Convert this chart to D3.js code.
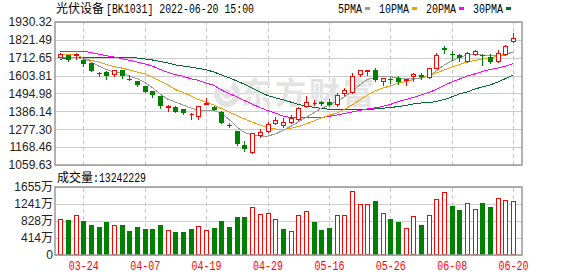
<!DOCTYPE html>
<html>
<head>
<meta charset="utf-8">
<script src="https://cdn.jsdelivr.net/npm/d3@7/dist/d3.min.js"></script>
<style>
  html, body { margin: 0; padding: 0; background: #fff; }
  svg { display: block; }
</style>
</head>
<body>
<svg id="chart" width="578" height="276"></svg>
<script>
// ---- data ----
const title_name = "光伏设备";
const title_rest = "[BK1031] 2022-06-20 15:00";
const vol_title = "成交量";
const vol_last = ":13242229";

const dates = ["03-21","03-22","03-23","03-24","03-25","03-28","03-29","03-30","03-31","04-01",
  "04-06","04-07","04-08","04-11","04-12","04-13","04-14","04-15","04-18","04-19",
  "04-20","04-21","04-22","04-25","04-26","04-27","04-28","04-29","05-05","05-06",
  "05-09","05-10","05-11","05-12","05-13","05-16","05-17","05-18","05-19","05-20",
  "05-23","05-24","05-25","05-26","05-27","05-30","05-31","06-01","06-02","06-06",
  "06-07","06-08","06-09","06-10","06-13","06-14","06-15","06-16","06-17","06-20"];

const opens = [1720,1727,1731,1700,1681,1618,1626,1612,1636,1583,
  1571,1541,1510,1480,1414,1414,1398,1368,1358,1430,
  1414,1384,1305,1267,1180,1141,1244,1269,1313,1303,
  1321,1337,1417,1437,1443,1443,1431,1498,1504,1612,
  1634,1636,1570,1582,1588,1578,1602,1605,1597,1652,
  1770,1738,1727,1690,1734,1729,1717,1691,1734,1816];
const highs = [1744,1729,1743,1702,1683,1626,1634,1640,1638,1606,
  1573,1542,1512,1481,1424,1416,1400,1378,1420,1465,
  1420,1390,1318,1269,1207,1256,1277,1321,1354,1343,
  1364,1413,1478,1455,1452,1463,1500,1528,1617,1640,
  1640,1648,1592,1598,1601,1582,1620,1617,1652,1744,
  1784,1753,1734,1747,1760,1734,1738,1758,1790,1862];
const lows = [1718,1691,1705,1664,1634,1603,1585,1600,1591,1580,
  1539,1504,1475,1408,1387,1382,1370,1340,1342,1428,
  1393,1315,1289,1184,1147,1134,1230,1261,1311,1293,
  1317,1335,1413,1423,1425,1418,1420,1488,1500,1601,
  1605,1573,1549,1557,1552,1549,1571,1585,1590,1650,
  1740,1697,1693,1685,1732,1667,1680,1689,1732,1810];
const closes = [1735,1697,1733,1676,1634,1615,1600,1640,1600,1581,
  1547,1504,1486,1417,1418,1384,1376,1372,1417,1439,
  1395,1317,1303,1186,1155,1252,1263,1309,1333,1321,
  1347,1407,1444,1440,1433,1426,1487,1517,1602,1636,
  1637,1575,1589,1580,1566,1581,1614,1597,1651,1731,
  1757,1735,1713,1744,1751,1724,1685,1741,1786,1834];

// volume, in 万
const volumes = [865,848,969,824,727,678,800,727,727,582,
  678,630,630,727,606,557,557,630,703,606,
  654,824,678,921,921,1163,993,1018,865,630,
  582,969,1066,808,614,662,969,969,1551,1244,
  1244,1308,1018,872,808,654,945,735,969,1357,
  1526,1187,1098,1260,1115,1260,1163,1381,1333,1324];

const ma5 = [1717,1717,1714,1708,1687,1662,1641,1626,1620,1601,
  1586,1562,1531,1492,1461,1443,1425,1407,1393,1394,
  1390,1376,1337,1291,1257,1242,1236,1236,1248,1270,
  1294,1321,1349,1376,1404,1425,1446,1474,1507,1547,
  1580,1592,1601,1598,1589,1583,1586,1589,1601,1632,
  1668,1693,1714,1729,1732,1729,1726,1723,1729,1748];
const ma10 = [1734,1734,1732,1711,1696,1687,1672,1659,1650,1638,
  1626,1614,1595,1571,1547,1519,1501,1480,1458,1443,
  1425,1404,1382,1361,1340,1321,1303,1288,1279,1277,
  1282,1294,1309,1327,1346,1361,1376,1398,1425,1455,
  1486,1510,1528,1541,1559,1568,1580,1592,1601,1620,
  1638,1656,1672,1687,1696,1705,1711,1723,1735,1748];
const ma20 = [1752,1752,1752,1752,1745,1734,1725,1717,1707,1697,
  1687,1675,1662,1642,1624,1609,1600,1585,1575,1559,
  1545,1516,1495,1474,1452,1431,1410,1391,1376,1358,
  1349,1346,1346,1346,1349,1355,1364,1373,1382,1391,
  1401,1407,1416,1428,1446,1458,1471,1486,1501,1519,
  1544,1565,1583,1601,1614,1629,1641,1650,1662,1677];
const ma30 = [1703,1711,1717,1717,1717,1717,1717,1717,1717,1715,
  1711,1705,1699,1691,1681,1669,1662,1656,1648,1640,
  1626,1608,1591,1571,1551,1529,1504,1483,1469,1457,
  1443,1429,1419,1411,1405,1399,1395,1395,1395,1395,
  1396,1401,1405,1410,1415,1422,1431,1437,1440,1446,
  1458,1474,1492,1504,1522,1535,1547,1565,1586,1606];

const price_ticks = [1059.63,1168.46,1277.30,1386.14,1494.98,1603.81,1712.65,1821.49,1930.32];
const vol_ticks = [0,414,828,1241,1655];
const vol_tick_labels = ["0","414万","828万","1241万","1655万"];
const date_ticks = ["03-24","04-07","04-19","04-29","05-16","05-26","06-08","06-20"];
const ma_names = ["5PMA","10PMA","20PMA","30PMA"];
const ma_colors = ["#9a9a9a","#f4a000","#ff00ff","#006b2e"];

// ---- layout ----
const left = 55, right = 522;
const price_top = 22, price_bottom = 165;
const vol_top = 187, vol_bottom = 255;
const RED = "#ff0000", GREEN = "#008000";
const MONO = "'Liberation Mono', monospace";
const SANS = "'Liberation Sans', 'Noto Sans CJK SC', sans-serif";
const CJK = "'Noto Sans CJK SC', sans-serif";

const svg = d3.select("#chart");

const x = d3.scalePoint().domain(dates).range([60.3, 513.1]);
const y_price = d3.scaleLinear().domain([1059.63, 1930.32]).range([price_bottom, price_top]);
const y_vol = d3.scaleLinear().domain([0, 1655]).range([vol_bottom, vol_top]);

const rows = dates.map((d, i) => ({
    date: d, open: opens[i], high: highs[i], low: lows[i], close: closes[i],
    vol: volumes[i],
    // volume colour follows close vs previous close
    vol_up: i === 0 ? closes[i] >= opens[i] : closes[i] >= closes[i - 1]
}));

const px = v => Math.round(v) + 0.5;

// ---- grids ----
function draw_grid(y, ticks, top, bottom) {
    svg.append("g")
        .attr("transform", `translate(${left},0)`)
        .call(d3.axisRight(y).tickValues(ticks).tickSize(right - left).tickFormat(""))
        .call(g => g.select(".domain").remove())
        .selectAll("line")
        .attr("stroke", "#cccccc")
        .attr("shape-rendering", "crispEdges");

    svg.append("g")
        .attr("transform", `translate(0,${bottom})`)
        .call(d3.axisBottom(x).tickValues(date_ticks).tickSize(-(bottom - top)).tickFormat(""))
        .call(g => g.select(".domain").remove())
        .selectAll("line")
        .attr("stroke", "#c8c8c8")
        .attr("stroke-dasharray", "4,3")
        .attr("shape-rendering", "crispEdges");
}
draw_grid(y_price, price_ticks, price_top, price_bottom);
draw_grid(y_vol, vol_ticks, vol_top, vol_bottom);

// ---- watermark ----
const wm = svg.append("g").attr("fill", "#e3e3e3");
wm.append("path")
    .attr("transform", "translate(227,94)")
    .attr("d", d3.arc().innerRadius(7).outerRadius(13).startAngle(0.5).endAngle(5.2)());
wm.append("path")
    .attr("transform", "translate(227,94)")
    .attr("d", d3.arc().innerRadius(0).outerRadius(5).startAngle(0).endAngle(2 * Math.PI)());
wm.append("text")
    .attr("x", 241).attr("y", 104)
    .attr("font-family", CJK).attr("font-size", 31).attr("font-weight", 700)
    .attr("letter-spacing", 3)
    .text("东方财富");

// ---- moving averages ----
const line = d3.line().x((d, i) => x(dates[i])).y(d => y_price(d));
[ma30, ma20, ma10, ma5].forEach((ma, k) => {
    svg.append("path")
        .datum(ma)
        .attr("fill", "none")
        .attr("stroke", ma_colors[3 - k])
        .attr("stroke-width", 1)
        .attr("shape-rendering", "crispEdges")
        .attr("d", line);
});

// ---- candles ----
const candles = svg.append("g").selectAll("g")
    .data(rows)
    .join("g");

candles.append("line")
    .attr("x1", d => px(x(d.date))).attr("x2", d => px(x(d.date)))
    .attr("y1", d => Math.round(y_price(d.high))).attr("y2", d => Math.round(y_price(d.low)) + 1)
    .attr("stroke", d => d.close >= d.open ? RED : GREEN)
    .attr("shape-rendering", "crispEdges");

candles.append("path")
    .attr("d", d => {
        let cx = Math.round(x(d.date));
        let y0 = Math.round(y_price(Math.max(d.open, d.close)));
        let y1 = Math.round(y_price(Math.min(d.open, d.close)));
        if (d.close >= d.open) {
            return `M${cx - 1.5},${y0 + 0.5}h4v${y1 - y0}h-4z`;
        }
        return `M${cx - 2},${y0}h5v${Math.max(1, y1 - y0)}h-5z`;
    })
    .attr("fill", d => d.close >= d.open ? "#fff" : GREEN)
    .attr("stroke", d => d.close >= d.open ? RED : "none")
    .attr("shape-rendering", "crispEdges");

// ---- volume bars ----
svg.append("g").selectAll("path")
    .data(rows)
    .join("path")
    .attr("d", d => {
        let cx = Math.round(x(d.date));
        let top = Math.round(y_vol(d.vol));
        if (d.vol_up) return `M${cx - 1.5},${top + 0.5}h4v${vol_bottom - top - 1}h-4z`;
        return `M${cx - 2},${top}h5v${vol_bottom - top}h-5z`;
    })
    .attr("fill", d => d.vol_up ? "#fff" : GREEN)
    .attr("stroke", d => d.vol_up ? RED : "none")
    .attr("shape-rendering", "crispEdges");

// ---- frames ----
[[price_top, price_bottom], [vol_top, vol_bottom]].forEach(([t, b]) => {
    svg.append("rect")
        .attr("x", left).attr("y", t)
        .attr("width", right - left).attr("height", b - t)
        .attr("fill", "none")
        .attr("stroke", "#999")
        .attr("stroke-width", 1.5);
});

// ---- axes labels ----
function style_axis(g) {
    g.select(".domain").remove();
    g.selectAll("text")
        .attr("font-family", SANS)
        .attr("font-size", 12)
        .attr("fill", "#222");
}

svg.append("g")
    .attr("transform", `translate(${left},0)`)
    .call(d3.axisLeft(y_price).tickValues(price_ticks).tickSize(0).tickPadding(3)
        .tickFormat(d => d.toFixed(2)))
    .call(style_axis);

svg.append("g")
    .attr("transform", `translate(${left},0)`)
    .call(d3.axisLeft(y_vol).tickValues(vol_ticks).tickSize(0).tickPadding(2)
        .tickFormat((d, i) => vol_tick_labels[i]))
    .call(style_axis);

svg.append("g")
    .attr("transform", `translate(0,${vol_bottom})`)
    .call(d3.axisBottom(x).tickValues(date_ticks).tickSize(0).tickPadding(6))
    .call(g => g.select(".domain").remove())
    .selectAll("text")
    .attr("font-family", MONO)
    .attr("font-size", 12)
    .attr("fill", RED)
    .attr("textLength", d => d.length * 6)
    .attr("lengthAdjust", "spacingAndGlyphs");

// ---- title + legend ----
svg.append("text")
    .attr("x", 56).attr("y", 12.5)
    .attr("font-family", CJK).attr("font-size", 12)
    .text(title_name);
svg.append("text")
    .attr("x", 106).attr("y", 12.5)
    .attr("font-family", MONO).attr("font-size", 12)
    .attr("textLength", title_rest.length * 6 - 2)
    .attr("lengthAdjust", "spacingAndGlyphs")
    .text(title_rest);

let pos = 338;
ma_names.forEach((name, i) => {
    let w = name.length * 6;
    svg.append("text")
        .attr("x", pos).attr("y", 12.5)
        .attr("font-family", MONO).attr("font-size", 12)
        .attr("textLength", w).attr("lengthAdjust", "spacingAndGlyphs")
        .text(name);
    svg.append("rect")
        .attr("x", pos + w + 3).attr("y", 7)
        .attr("width", 5).attr("height", 3)
        .attr("fill", ma_colors[i]);
    pos += w + 17;
});

svg.append("text")
    .attr("x", 57).attr("y", 182)
    .attr("font-family", CJK).attr("font-size", 12)
    .text(vol_title);
svg.append("text")
    .attr("x", 93).attr("y", 182)
    .attr("font-family", MONO).attr("font-size", 12)
    .attr("textLength", vol_last.length * 6 - 1)
    .attr("lengthAdjust", "spacingAndGlyphs")
    .text(vol_last);
</script>
</body>
</html>
